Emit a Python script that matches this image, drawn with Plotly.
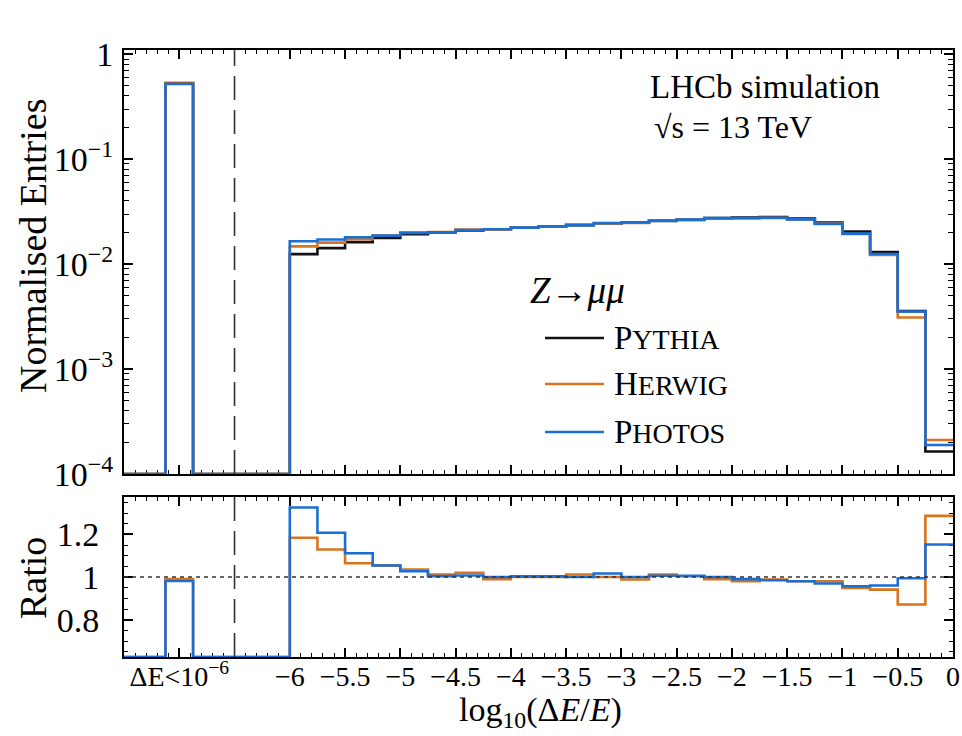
import numpy as np
import plotly.graph_objects as go

# ---- data -------------------------------------------------------------
generators = ["Pythia", "Herwig", "Photos"]
colors = ["#111111", "#d9741c", "#1a6fd6"]

# bin for events with dE < 1e-6 (drawn at the left of the axis break)
low_bin_edges = [-7.125, -6.875]
low_bin_values = [0.53, 0.525, 0.52]

# log10(dE/E) bins from -6 to 0 in steps of 0.25
bin_edges = [-6.0, -5.75, -5.5, -5.25, -5.0, -4.75, -4.5, -4.25, -4.0, -3.75,
             -3.5, -3.25, -3.0, -2.75, -2.5, -2.25, -2.0, -1.75, -1.5, -1.25,
             -1.0, -0.75, -0.5, -0.25, 0.0]

pythia = [0.01245, 0.0142, 0.0162, 0.0177, 0.0193, 0.0200, 0.0209, 0.0215,
          0.0222, 0.0228, 0.0235, 0.0242, 0.0249, 0.0258, 0.0264, 0.0274,
          0.0278, 0.0280, 0.0272, 0.0249, 0.0204, 0.0130, 0.00356, 0.000164]
herwig = [0.01474, 0.01603, 0.01724, 0.01866, 0.01998, 0.02024, 0.02132, 0.02129,
          0.0222, 0.0228, 0.02378, 0.0242, 0.0246, 0.02611, 0.0265, 0.02713,
          0.02724, 0.02766, 0.02666, 0.0244, 0.01936, 0.01223, 0.0031, 0.000211]
photos = [0.01651, 0.01715, 0.0180, 0.01866, 0.01982, 0.02008, 0.02105, 0.0215,
          0.02227, 0.02287, 0.0235, 0.02459, 0.0249, 0.02595, 0.02656, 0.0274,
          0.02752, 0.02758, 0.02666, 0.02415, 0.01952, 0.01248, 0.00354, 0.000189]
series = [pythia, herwig, photos]

x_tick_vals = [-7, -6, -5.5, -5, -4.5, -4, -3.5, -3, -2.5, -2, -1.5, -1, -0.5, 0]
x_tick_text = ["ΔE<10<sup>−6</sup>", "−6", "−5.5", "−5", "−4.5", "−4", "−3.5",
               "−3", "−2.5", "−2", "−1.5", "−1", "−0.5", "0"]

# ---- layout constants ---------------------------------------------------
W, H = 962, 736
X_MIN, X_MAX = -7.5, 0.0
Y_LOG_RANGE = [-4, 0.04]
R_RANGE = [0.625, 1.375]
FONT = "Liberation Serif, Times New Roman, serif"


def px_x(p):
    return p / W


def px_y(p):
    return 1 - p / H


def step_arrays(low_value, values):
    """Full histogram outline: empty | low bin | empty gap | main bins."""
    xs = [X_MIN, low_bin_edges[0], low_bin_edges[1]] + bin_edges
    ys = [0.0, low_value, 0.0] + list(values) + [values[-1]]
    return np.array(xs), np.array(ys, dtype=float)


fig = go.Figure()

# ---- upper panel: normalised distributions ------------------------------
floor_top = 10 ** Y_LOG_RANGE[0]
for name, color, low, vals in zip(generators, colors, low_bin_values, series):
    xs, ys = step_arrays(low, vals)
    ys = np.maximum(ys, floor_top)
    fig.add_trace(go.Scatter(x=xs, y=ys, mode="lines", line_shape="hv",
                             line=dict(color=color, width=2.6),
                             xaxis="x", yaxis="y", showlegend=False,
                             name=name))

# ---- lower panel: ratio to Pythia ---------------------------------------
_, ref = step_arrays(low_bin_values[0], pythia)
for name, color, low, vals in list(zip(generators, colors, low_bin_values, series))[1:]:
    xs, ys = step_arrays(low, vals)
    ratio = np.divide(ys, ref, out=np.zeros_like(ys), where=ref > 0)
    ratio = np.maximum(ratio, R_RANGE[0])
    fig.add_trace(go.Scatter(x=xs, y=ratio, mode="lines", line_shape="hv",
                             line=dict(color=color, width=2.6),
                             xaxis="x2", yaxis="y2", showlegend=False,
                             name=name))

x_dom = [px_x(124), px_x(953)]
top_dom = [px_y(474), px_y(50)]
bot_dom = [px_y(657), px_y(497)]

axis_common = dict(showline=True, linecolor="black", linewidth=2,
                   mirror="allticks", ticks="inside", ticklen=9, tickwidth=1.5,
                   tickcolor="black", showgrid=False, zeroline=False,
                   automargin=False, layer="below traces")

x_minor = dict(ticks="inside", ticklen=4, tickwidth=1.2, tickcolor="black",
               tickmode="linear", tick0=0, dtick=0.1, showgrid=False)

log_minor_vals = [m * 10.0 ** k for k in range(-4, 0) for m in range(2, 10)]

fig.update_layout(
    width=W, height=H,
    margin=dict(l=0, r=0, t=0, b=0, autoexpand=False),
    paper_bgcolor="white", plot_bgcolor="white",
    font=dict(family=FONT, color="black"),
    xaxis=dict(axis_common, domain=x_dom, range=[X_MIN, X_MAX], anchor="y",
               tickmode="array", tickvals=x_tick_vals, showticklabels=False,
               minor=x_minor),
    yaxis=dict(axis_common, domain=top_dom, type="log", range=Y_LOG_RANGE,
               anchor="x", tickmode="array",
               tickvals=[1e-4, 1e-3, 1e-2, 1e-1, 1],
               ticktext=["10<sup>−4</sup>", "10<sup>−3</sup>", "10<sup>−2</sup>",
                         "10<sup>−1</sup>", "1"],
               tickfont=dict(family=FONT, size=34, color="black"),
               ticklabelstandoff=2,
               minor=dict(ticks="inside", ticklen=5, tickwidth=1.2,
                          tickcolor="black", tickmode="array",
                          tickvals=log_minor_vals, showgrid=False)),
    xaxis2=dict(axis_common, domain=x_dom, range=[X_MIN, X_MAX], anchor="y2",
                tickmode="array", tickvals=x_tick_vals, ticktext=x_tick_text,
                tickfont=dict(family=FONT, size=28, color="black"),
                ticklabelstandoff=-7, minor=x_minor),
    yaxis2=dict(axis_common, domain=bot_dom, range=R_RANGE, anchor="x2",
                tickmode="array", tickvals=[0.8, 1.0, 1.2],
                ticktext=["0.8", "1", "1.2"],
                tickfont=dict(family=FONT, size=34, color="black"),
                ticklabelstandoff=16,
                minor=dict(ticks="inside", ticklen=4, tickwidth=1.2,
                           tickcolor="black", tickmode="linear", tick0=0,
                           dtick=0.05, showgrid=False)),
)

# axis break marker and unit-ratio reference
for xr, yr in (("x", "y domain"), ("x2", "y2 domain")):
    fig.add_shape(type="line", xref=xr, yref=yr, x0=-6.5, x1=-6.5, y0=0, y1=1,
                  line=dict(color="#333333", width=1.6, dash="24px,10px"))
fig.add_shape(type="line", xref="x2 domain", yref="y2", x0=0, x1=1, y0=1, y1=1,
              line=dict(color="#333333", width=1.5, dash="4px,4px"))

# ---- legend -------------------------------------------------------------
legend_labels = ["P<span style='font-size:28px'>YTHIA</span>",
                 "H<span style='font-size:28px'>ERWIG</span>",
                 "P<span style='font-size:28px'>HOTOS</span>"]
legend_rows = [338, 384, 432]
for label, color, yrow in zip(legend_labels, colors, legend_rows):
    fig.add_shape(type="line", xref="paper", yref="paper",
                  x0=px_x(545), x1=px_x(604), y0=px_y(yrow), y1=px_y(yrow),
                  line=dict(color=color, width=2.6))
    fig.add_annotation(x=px_x(612), y=px_y(yrow), xref="paper", yref="paper",
                       text=label, showarrow=False, xanchor="left",
                       yanchor="middle", font=dict(family=FONT, size=33))
fig.add_annotation(x=px_x(528), y=px_y(290), xref="paper", yref="paper",
                   text="<i>Z</i>→<i>μμ</i>", showarrow=False, xanchor="left",
                   yanchor="middle", font=dict(family=FONT, size=37))

# ---- labels -------------------------------------------------------------
fig.add_annotation(x=px_x(648), y=px_y(87), xref="paper", yref="paper",
                   text="LHCb simulation", showarrow=False, xanchor="left",
                   yanchor="middle", font=dict(family=FONT, size=33))
fig.add_annotation(x=px_x(652), y=px_y(127), xref="paper", yref="paper",
                   text="√s = 13 TeV", showarrow=False, xanchor="left",
                   yanchor="middle", font=dict(family=FONT, size=32))
fig.add_annotation(x=px_x(33), y=px_y(246), xref="paper", yref="paper",
                   text="Normalised Entries", showarrow=False, textangle=-90,
                   xanchor="center", yanchor="middle",
                   font=dict(family=FONT, size=38))
fig.add_annotation(x=px_x(33), y=px_y(578), xref="paper", yref="paper",
                   text="Ratio", showarrow=False, textangle=-90,
                   xanchor="center", yanchor="middle",
                   font=dict(family=FONT, size=38))
fig.add_annotation(x=px_x(540), y=px_y(712), xref="paper", yref="paper",
                   text="log<sub>10</sub>(Δ<i>E</i>/<i>E</i>)", showarrow=False,
                   xanchor="center", yanchor="middle",
                   font=dict(family=FONT, size=34))

fig.write_html("out.html")
